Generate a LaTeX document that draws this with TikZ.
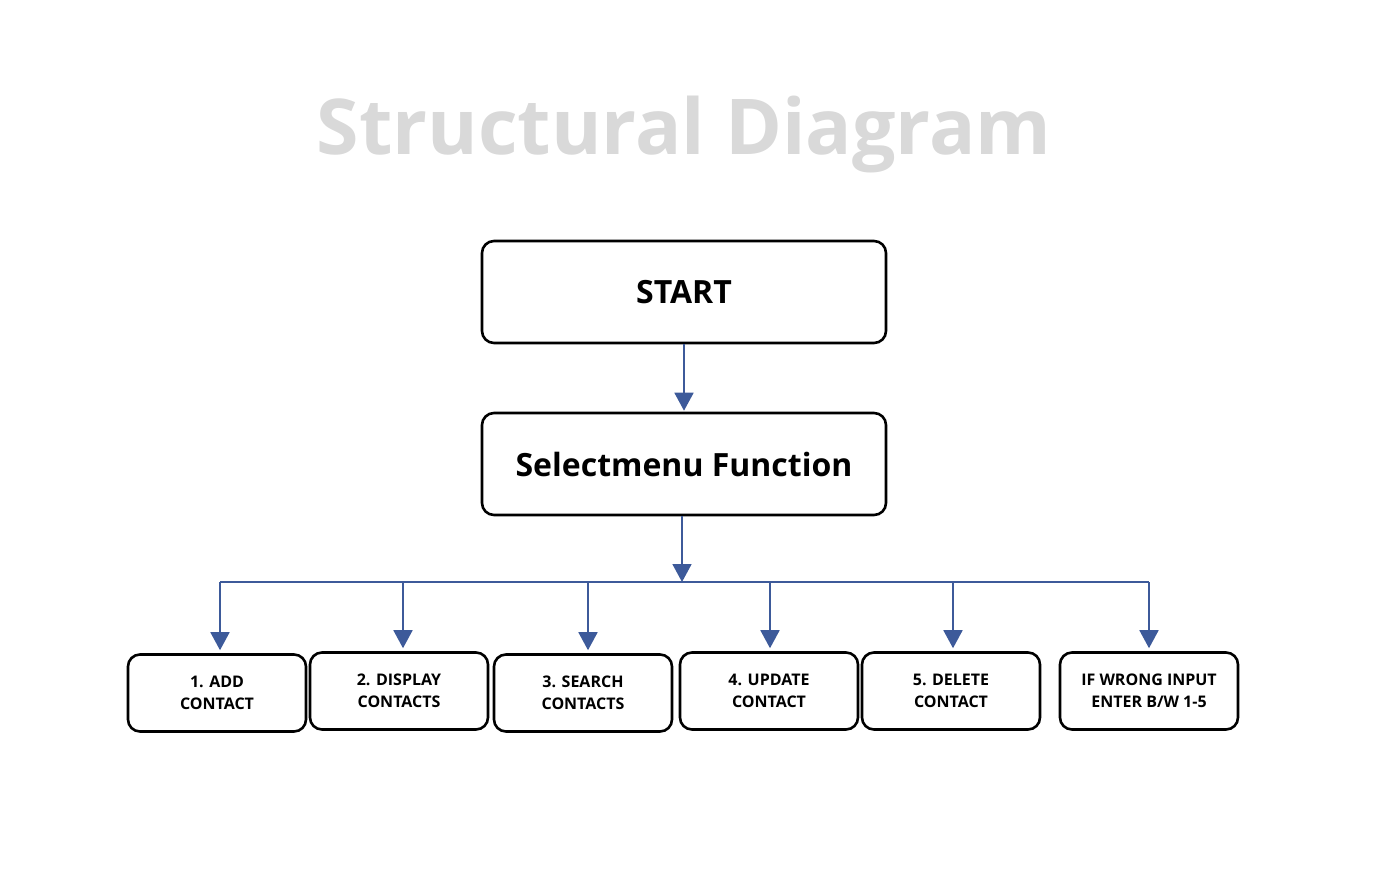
\documentclass[tikz,border=0pt]{standalone}
\usepackage{fontspec}
\setmainfont{Open Sans}
\usetikzlibrary{arrows.meta}
\definecolor{linkblue}{RGB}{61,90,154}
\definecolor{titlegray}{RGB}{217,217,217}

\begin{document}
\begin{tikzpicture}[
    x=1pt,y=-1pt,
    box/.style={draw=black,line width=2.6pt,rounded corners=12pt,fill=white,
      align=center,font=\bfseries,inner sep=0pt},
    bigbox/.style={box,minimum width=404pt,minimum height=102pt,
      font=\fontsize{32}{38}\selectfont\bfseries},
    optbox/.style={box,minimum width=178pt,minimum height=77pt,
      font=\fontsize{16}{22}\selectfont\bfseries},
    link/.style={draw=linkblue,line width=1.8pt},
    arrow/.style={link,-{Triangle[length=18pt,width=19pt]},shorten >=3pt},
    heading/.style={text=titlegray,font=\fontsize{77}{86}\selectfont\bfseries}
]
\useasboundingbox (0,0) rectangle (1378,876);

% title
\node[heading] (title) at (684,134) {Structural Diagram};

% main boxes
\node[bigbox] (start) at (684,292) {START};
\node[bigbox] (menu) at (684,464) {Selectmenu Function};
\draw[arrow,shorten >=1pt] (start.south) -- (menu.north);

% options
\node[optbox] (opt1) at (217,693) {1. ADD\\CONTACT};
\node[optbox] (opt2) at (399,691) {2. DISPLAY\\CONTACTS};
\node[optbox] (opt3) at (583,693) {3. SEARCH\\CONTACTS};
\node[optbox] (opt4) at (769,691) {4. UPDATE\\CONTACT};
\node[optbox] (opt5) at (951,691) {5. DELETE\\CONTACT};
\node[optbox] (opt6) at (1149,691) {IF WRONG INPUT\\ENTER B/W 1-5};

% branch line
\coordinate (bus) at (682,582);
\coordinate (busL) at (220,582);
\coordinate (busR) at (1149,582);
\draw[arrow,shorten >=0pt] (menu.south -| bus) -- (bus);
\draw[link] (busL) -- (busR);
\foreach \o/\x in {opt1/220,opt2/403,opt3/588,opt4/770,opt5/953,opt6/1149}
  \draw[arrow] (\x,582) -- (\o.north -| {(\x,0)});

\end{tikzpicture}
\end{document}
